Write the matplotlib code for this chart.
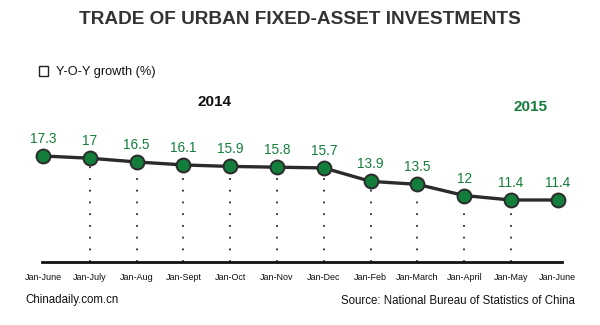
import matplotlib
matplotlib.use("Agg")
import matplotlib.pyplot as plt
from matplotlib.patches import Rectangle

plt.rcParams['font.family'] = ['Liberation Sans', 'DejaVu Sans']

periods = ['Jan-June', 'Jan-July', 'Jan-Aug', 'Jan-Sept', 'Jan-Oct', 'Jan-Nov',
           'Jan-Dec', 'Jan-Feb', 'Jan-March', 'Jan-April', 'Jan-May', 'Jan-June']
growth = [17.3, 17, 16.5, 16.1, 15.9, 15.8, 15.7, 13.9, 13.5, 12, 11.4, 11.4]
labels = ['17.3', '17', '16.5', '16.1', '15.9', '15.8', '15.7', '13.9', '13.5', '12', '11.4', '11.4']

green = '#137d3b'
dark = '#2b2b2b'

fig = plt.figure(figsize=(6, 3.25), dpi=100)
fig.patch.set_facecolor('white')

# axes: bottom edge is the baseline (pixel y=262), x from 42 to 562 px
ax = fig.add_axes([42 / 600, 63 / 325, 520 / 600, 132 / 325])
x = list(range(len(growth)))
ax.set_xlim(-1 / 46.8, 519 / 46.8)
ax.set_ylim(11.4 - 62 / 7.46, 11.4 + 70 / 7.46)

ybot = ax.get_ylim()[0]
# dotted drop lines (not for the first and last point)
ax.vlines(x[1:-1], ybot, growth[1:-1], colors=dark, linewidth=1.3,
          linestyles=[(0, (1, 5.5))], zorder=1)
ax.plot(x, growth, color=dark, linewidth=2.4, zorder=2, clip_on=False)
ax.plot(x, growth, 'o', markersize=10, markerfacecolor=green,
        markeredgecolor=dark, markeredgewidth=1.4, zorder=3, clip_on=False)
for xi, v, lab in zip(x, growth, labels):
    ax.annotate(lab, (xi, v), xytext=(0, 10), textcoords='offset pixels',
                ha='center', va='bottom', fontsize=9.8, color=green)

for s in ['top', 'left', 'right']:
    ax.spines[s].set_visible(False)
ax.spines['bottom'].set_linewidth(2)
ax.spines['bottom'].set_color('#111111')
ax.set_yticks([])
ax.set_xticks(x)
ax.set_xticklabels(periods, fontsize=6.5, color='#111111')
ax.tick_params(axis='x', length=0, pad=8)
ax.set_facecolor('none')

fig.text(0.5, 1 - 20 / 325, 'TRADE OF URBAN FIXED-ASSET INVESTMENTS',
         ha='center', va='center', fontsize=13.7, fontweight='bold', color='#333333')

fig.patches.append(Rectangle((39 / 600, 1 - 76 / 325), 9 / 600, 10 / 325,
                             transform=fig.transFigure, fill=False,
                             edgecolor='#222222', linewidth=1))
fig.text(56 / 600, 1 - 72 / 325, 'Y-O-Y growth (%)', ha='left', va='center',
         fontsize=9.2, color='#111111')

fig.text(214 / 600, 1 - 102 / 325, '2014', ha='center', va='center',
         fontsize=11, fontweight='bold', color='#111111')
fig.text(530 / 600, 1 - 107 / 325, '2015', ha='center', va='center',
         fontsize=11, fontweight='bold', color=green)

fig.text(25 / 600, 1 - 300 / 325, 'Chinadaily.com.cn', ha='left', va='center',
         fontsize=8.3, color='#111111')
fig.text(575 / 600, 1 - 301 / 325, 'Source: National Bureau of Statistics of China',
         ha='right', va='center', fontsize=8.3, color='#111111')

fig.savefig('out.png', dpi=100, facecolor='white')
